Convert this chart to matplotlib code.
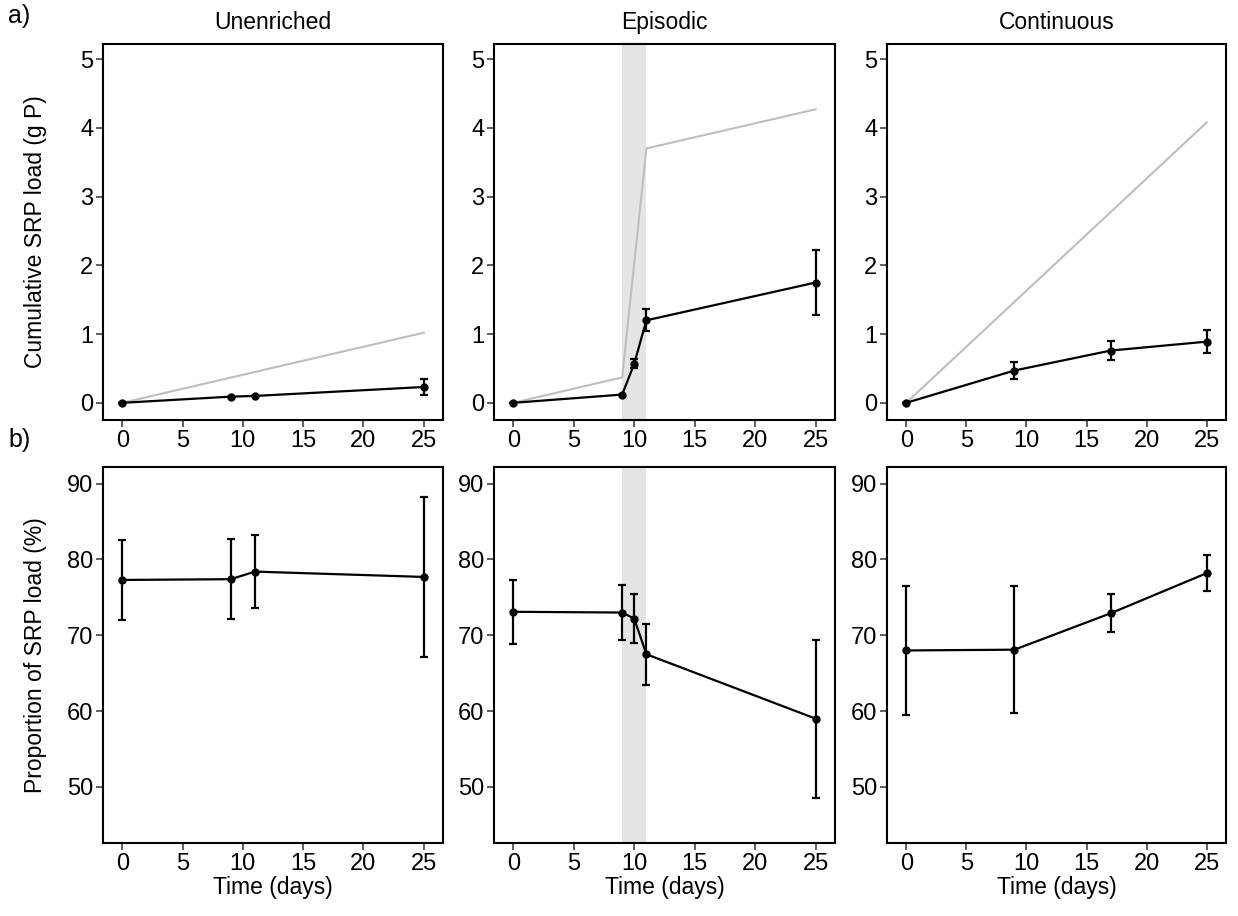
import matplotlib
matplotlib.use("Agg")
from matplotlib import pyplot as plt
import numpy as np

plt.rcParams['font.family'] = ['Liberation Sans', 'DejaVu Sans']

titles = ["Unenriched", "Episodic", "Continuous"]

# a) cumulative SRP load (g P)
load_input_x = [[0, 25], [0, 9, 11, 25], [0, 25]]
load_input_y = [[0, 1.02], [0, 0.37, 3.70, 4.27], [0, 4.08]]

load_x = [[0, 9, 11, 25], [0, 9, 10, 11, 25], [0, 9, 17, 25]]
load_y = [[0, 0.09, 0.10, 0.23], [0, 0.12, 0.57, 1.20, 1.75], [0, 0.47, 0.76, 0.89]]
load_err = [[0, 0.0, 0.0, 0.11], [0, 0.0, 0.07, 0.16, 0.47], [0, 0.12, 0.14, 0.17]]

# b) proportion of SRP load (%)
prop_y = [[77.3, 77.4, 78.4, 77.7], [73.1, 73.0, 72.2, 67.5, 59.0], [68.0, 68.1, 72.9, 78.2]]
prop_err = [[5.3, 5.3, 4.8, 10.5], [4.2, 3.6, 3.2, 4.0, 10.4], [8.5, 8.4, 2.5, 2.4]]

pulse = (9, 11)

fig = plt.figure(figsize=(12.38, 9.16), dpi=100)
W, H = 1238.0, 916.0
cols = [(103, 443), (494, 835), (887, 1226)]
rows = [(44, 420), (467, 843)]


def make_ax(r, c):
    x0, x1 = cols[c]
    y0, y1 = rows[r]
    return fig.add_axes([x0 / W, 1 - y1 / H, (x1 - x0) / W, (y1 - y0) / H])


def style(ax):
    for s in ax.spines.values():
        s.set_linewidth(1.5)
        s.set_color('black')
    ax.tick_params(direction='out', length=5, width=1.1, color='#333333',
                   labelsize=17, labelcolor='black', pad=2)
    ax.set_xlim(-1.6, 26.6)
    ax.set_xticks([0, 5, 10, 15, 20, 25])


for c in range(3):
    # top row
    ax = make_ax(0, c)
    style(ax)
    if c == 1:
        ax.axvspan(pulse[0], pulse[1], color='#e5e5e5', lw=0, zorder=0)
    ax.plot(load_input_x[c], load_input_y[c], color='#bebebe', lw=1.5, zorder=1)
    ax.errorbar(load_x[c], load_y[c], yerr=load_err[c], color='black', lw=1.6,
                marker='o', ms=5, capsize=3, capthick=1.6, elinewidth=1.6, zorder=2)
    ax.set_ylim(-0.25, 5.22)
    ax.set_yticks([0, 1, 2, 3, 4, 5])
    ax.set_title(titles[c], fontsize=16.5, pad=11)
    if c == 0:
        ax.set_ylabel("Cumulative SRP load (g P)", fontsize=16.5)
        ax.yaxis.set_label_coords(-0.165, 0.5)

    # bottom row
    ax = make_ax(1, c)
    style(ax)
    if c == 1:
        ax.axvspan(pulse[0], pulse[1], color='#e5e5e5', lw=0, zorder=0)
    ax.errorbar(load_x[c], prop_y[c], yerr=prop_err[c], color='black', lw=1.6,
                marker='o', ms=5, capsize=3, capthick=1.6, elinewidth=1.6, zorder=2)
    ax.set_ylim(42.6, 92.2)
    ax.set_yticks([50, 60, 70, 80, 90])
    ax.set_xlabel("Time (days)", fontsize=16.5, labelpad=1)
    if c == 0:
        ax.set_ylabel("Proportion of SRP load (%)", fontsize=16.5)
        ax.yaxis.set_label_coords(-0.165, 0.5)

fig.text(8 / W, 1 - 16 / H, "a)", fontsize=18, va='center', ha='left')
fig.text(8 / W, 1 - 440 / H, "b)", fontsize=18, va='center', ha='left')

fig.savefig("out.png", dpi=100)
